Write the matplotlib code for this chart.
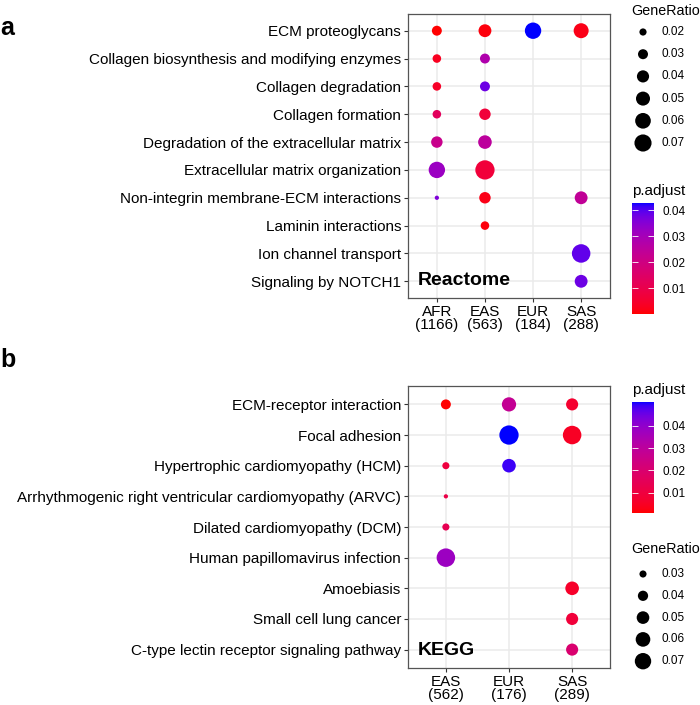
import numpy as np
import matplotlib
matplotlib.use('Agg')
import matplotlib.pyplot as plt
from matplotlib.colors import ListedColormap, Normalize
from matplotlib.cm import ScalarMappable

plt.rcParams['font.family'] = ['Liberation Sans', 'DejaVu Sans']

# ---- panel a: Reactome ----
ra_terms = ['ECM proteoglycans', 'Collagen biosynthesis and modifying enzymes',
            'Collagen degradation', 'Collagen formation',
            'Degradation of the extracellular matrix', 'Extracellular matrix organization',
            'Non-integrin membrane-ECM interactions', 'Laminin interactions',
            'Ion channel transport', 'Signaling by NOTCH1']
ra_groups = ['AFR\n(1166)', 'EAS\n(563)', 'EUR\n(184)', 'SAS\n(288)']
ra_term = [0, 0, 0, 0, 1, 1, 2, 2, 3, 3, 4, 4, 5, 5, 6, 6, 6, 7, 8, 9]
ra_group = [0, 1, 2, 3, 0, 1, 0, 1, 0, 1, 0, 1, 0, 1, 0, 1, 3, 1, 3, 3]
ra_ratio = [0.0298, 0.0435, 0.0648, 0.0558, 0.0245, 0.0298, 0.0245, 0.0298, 0.0245, 0.0365,
            0.0365, 0.0475, 0.0648, 0.0861, 0.0131, 0.0365, 0.0435, 0.0245, 0.0802, 0.0435]
ra_padj = [0.0001, 0.001, 0.0427, 0.002, 0.003, 0.028, 0.004, 0.038, 0.013, 0.007,
           0.022, 0.025, 0.032, 0.007, 0.036, 0.002, 0.024, 0.001, 0.039, 0.038]
ra_size_breaks = [0.02, 0.03, 0.04, 0.05, 0.06, 0.07]
ra_cbar_ticks = [0.01, 0.02, 0.03, 0.04]

# ---- panel b: KEGG ----
kb_terms = ['ECM-receptor interaction', 'Focal adhesion', 'Hypertrophic cardiomyopathy (HCM)',
            'Arrhythmogenic right ventricular cardiomyopathy (ARVC)',
            'Dilated cardiomyopathy (DCM)', 'Human papillomavirus infection',
            'Amoebiasis', 'Small cell lung cancer', 'C-type lectin receptor signaling pathway']
kb_groups = ['EAS\n(562)', 'EUR\n(176)', 'SAS\n(289)']
kb_term = [0, 0, 0, 1, 1, 2, 2, 3, 4, 5, 6, 7, 8]
kb_group = [0, 1, 2, 1, 2, 0, 1, 0, 0, 0, 2, 2, 2]
kb_ratio = [0.0389, 0.0579, 0.0476, 0.0887, 0.0835, 0.030, 0.0546, 0.0241, 0.030,
            0.0835, 0.0546, 0.0476, 0.0476]
kb_padj = [0.001, 0.028, 0.007, 0.0506, 0.005, 0.010, 0.049, 0.012, 0.014,
           0.038, 0.006, 0.009, 0.020]
kb_size_breaks = [0.03, 0.04, 0.05, 0.06, 0.07]
kb_cbar_ticks = [0.01, 0.02, 0.03, 0.04]


def srgb_to_lab(c):
    c = np.asarray(c, float)
    lin = np.where(c <= 0.04045, c / 12.92, ((c + 0.055) / 1.055) ** 2.4)
    M = np.array([[0.4124, 0.3576, 0.1805], [0.2126, 0.7152, 0.0722], [0.0193, 0.1192, 0.9505]])
    xyz = M @ lin / np.array([0.95047, 1.0, 1.08883])
    f = np.where(xyz > 0.008856, np.cbrt(xyz), 7.787 * xyz + 16 / 116)
    return np.array([116 * f[1] - 16, 500 * (f[0] - f[1]), 200 * (f[1] - f[2])])


def lab_to_srgb(lab):
    L, a, b = lab
    fy = (L + 16) / 116
    f = np.array([fy + a / 500, fy, fy - b / 200])
    xyz = np.where(f ** 3 > 0.008856, f ** 3, (f - 16 / 116) / 7.787) * np.array([0.95047, 1.0, 1.08883])
    Minv = np.array([[3.2406, -1.5372, -0.4986], [-0.9689, 1.8758, 0.0415], [0.0557, -0.2040, 1.0570]])
    lin = Minv @ xyz
    c = np.where(lin <= 0.0031308, 12.92 * lin, 1.055 * np.clip(lin, 0, None) ** (1 / 2.4) - 0.055)
    return np.clip(c, 0, 1)


# red -> blue gradient interpolated in Lab, like ggplot
lab_lo, lab_hi = srgb_to_lab([1, 0, 0]), srgb_to_lab([0, 0, 1])
cmap = ListedColormap([lab_to_srgb(lab_lo + t * (lab_hi - lab_lo)) for t in np.linspace(0, 1, 256)])


def size_a(v):
    d = 1.07 * np.sqrt(45 + 4220 * (np.asarray(v) - 0.02))
    return (d * 0.72) ** 2


def size_b(v):
    d = 1.07 * np.sqrt(44 + 4770 * (np.asarray(v) - 0.03))
    return (d * 0.72) ** 2


W, H = 700, 705
fig = plt.figure(figsize=(7, 7.05), dpi=100)


def px_axes(x0, y0, x1, y1):
    return fig.add_axes([x0 / W, 1 - y1 / H, (x1 - x0) / W, (y1 - y0) / H])


def dot_panel(ax, terms, groups, t_idx, g_idx, ratio, padj, sizef, label):
    n = len(terms)
    y = [n - t for t in t_idx]
    x = [g + 1 for g in g_idx]
    norm = Normalize(min(padj), max(padj))
    ax.scatter(x, y, s=sizef(ratio), c=padj, cmap=cmap, norm=norm, linewidths=0, zorder=3)
    ax.set_xlim(0.4, len(groups) + 0.6)
    ax.set_ylim(0.4, n + 0.6)
    ax.set_xticks(range(1, len(groups) + 1))
    ax.set_xticklabels(groups, fontsize=11, linespacing=0.95)
    ax.set_yticks(range(n, 0, -1))
    ax.set_yticklabels(terms, fontsize=11)
    ax.tick_params(length=3, width=0.8, color='#333333', pad=2, labelcolor='black')
    ax.grid(color='#EBEBEB', lw=1.1)
    ax.set_axisbelow(True)
    for sp in ax.spines.values():
        sp.set_color('#555555')
        sp.set_linewidth(0.9)
    ax.text(0.05, 0.045, label, transform=ax.transAxes, fontsize=14, fontweight='bold')
    return norm


def colorbar(x0, y0, norm, ticks, title):
    cax = px_axes(x0, y0, x0 + 22, y0 + 111)
    cb = fig.colorbar(ScalarMappable(norm=norm, cmap=cmap), cax=cax)
    cb.outline.set_visible(False)
    cb.set_ticks(ticks)
    cb.set_ticklabels([f'{t:.2f}' for t in ticks])
    cax.tick_params(which='both', direction='in', length=4, width=0.6, color='white',
                    left=True, right=True, labelsize=8.5, pad=6)
    fig.text(x0 / W, 1 - (y0 - 8) / H, title, fontsize=11, va='baseline')


ax_a = px_axes(408, 14, 610, 298)
norm_a = dot_panel(ax_a, ra_terms, ra_groups, ra_term, ra_group, ra_ratio, ra_padj, size_a, 'Reactome')
ax_b = px_axes(408, 386, 610, 668)
norm_b = dot_panel(ax_b, kb_terms, kb_groups, kb_term, kb_group, kb_ratio, kb_padj, size_b, 'KEGG')

fig.text(0 / W, 1 - 35 / H, 'a', fontsize=18, fontweight='bold', va='baseline')
fig.text(0 / W, 1 - 367 / H, 'b', fontsize=18, fontweight='bold', va='baseline')

# legends drawn on an overlay in pixel coordinates
ov = fig.add_axes([0, 0, 1, 1])
ov.set_xlim(0, W)
ov.set_ylim(H, 0)
ov.axis('off')

ov.text(631, 15, 'GeneRatio', fontsize=10.3, va='baseline')
ya = [32 + 22.2 * i for i in range(len(ra_size_breaks))]
ov.scatter([643] * len(ya), ya, s=size_a(ra_size_breaks), color='black', linewidths=0)
for yy, v in zip(ya, ra_size_breaks):
    ov.text(662, yy, f'{v:.2f}', fontsize=8.5, va='center')

ov.text(631, 553, 'GeneRatio', fontsize=10.3, va='baseline')
yb = [574 + 21.8 * i for i in range(len(kb_size_breaks))]
ov.scatter([643] * len(yb), yb, s=size_b(kb_size_breaks), color='black', linewidths=0)
for yy, v in zip(yb, kb_size_breaks):
    ov.text(662, yy, f'{v:.2f}', fontsize=8.5, va='center')

colorbar(632, 203, norm_a, ra_cbar_ticks, 'p.adjust')
colorbar(632, 402, norm_b, kb_cbar_ticks, 'p.adjust')

fig.savefig('out.png', dpi=100)
